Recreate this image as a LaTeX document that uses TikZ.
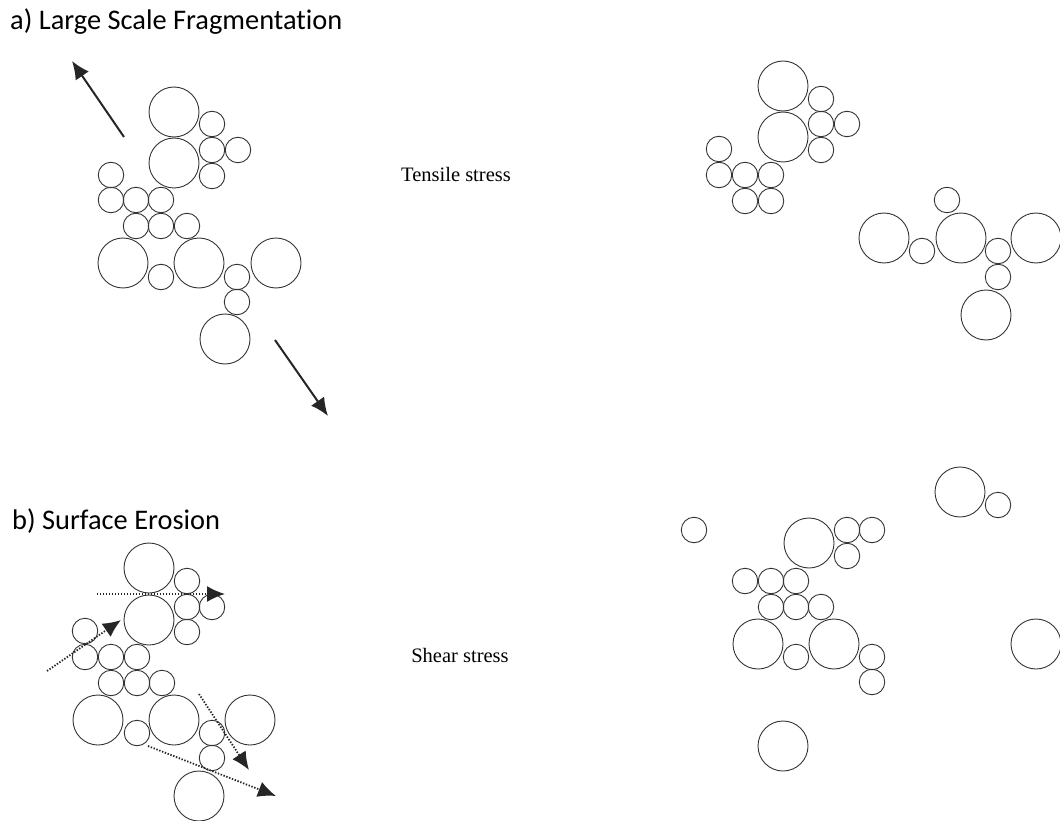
\documentclass[tikz,border=0pt]{standalone}
\usepackage{fontspec}
\newfontfamily\headfont[Ligatures=NoCommon]{Carlito}
\newfontfamily\stressfont{Liberation Serif}
\usetikzlibrary{arrows.meta}
\tikzset{
  grain/.style={circle,draw=black!80,line width=0.9pt,inner sep=0pt},
  bigg/.style={grain,minimum size=50pt},
  smallg/.style={grain,minimum size=25.5pt},
  pull/.style={line width=2pt,draw=black!85,-{Latex[length=18pt,width=16pt]}},
  flow/.style={line width=1.8pt,draw=black!85,dash pattern=on 1.4pt off 1.6pt,-{Latex[length=18pt,width=16pt]}},
  heading/.style={anchor=base west,inner sep=0pt,font=\headfont\fontsize{28.4}{32}\selectfont},
  stresslabel/.style={inner sep=0pt,font=\stressfont\fontsize{20.5}{24}\selectfont}
}
\begin{document}
\begin{tikzpicture}[x=1pt,y=-1pt]
\useasboundingbox (0,0) rectangle (1060,821);

% headings and stress labels
\node[heading] (ta) at (10,30) {a) Large Scale Fragmentation};
\node[heading] (tb) at (12,529) {b) Surface Erosion};
\node[stresslabel] (ts) at (456,174) {Tensile stress};
\node[stresslabel] (tsh) at (460,655) {Shear stress};

% ---- a) aggregate before tensile loading
\foreach \n/\x/\y in {aB1/174/112, aB2/174/163, aB3/123/263, aB4/199/263, aB5/276/263, aB6/225/339}
  \node[bigg] (\n) at (\x,\y) {};
\foreach \n/\x/\y in {aS1/212/124, aS2/212/150, aS3/238/150, aS4/212/176,
    aS5/111/175, aS6/111/200, aS7/136/200, aS8/161/200,
    aS9/136/226, aS10/161/226, aS11/187/226,
    aS12/161/277, aS13/237/277, aS14/237/302}
  \node[smallg] (\n) at (\x,\y) {};

\coordinate (pu0) at (124,137); \coordinate (pu1) at (72,61);
\coordinate (pd0) at (275,340); \coordinate (pd1) at (328,416);
\draw[pull] (pu0) -- (pu1);
\draw[pull] (pd0) -- (pd1);

% ---- a) fragments after tensile loading
\foreach \n/\x/\y in {fB1/783/86, fB2/783/137, fB3/884/238, fB4/961/238, fB5/1036/238, fB6/986/315}
  \node[bigg] (\n) at (\x,\y) {};
\foreach \n/\x/\y in {fS1/821/99, fS2/821/124, fS3/847/124, fS4/821/150,
    fS5/719/149, fS6/719/175, fS7/745/175, fS8/771/175,
    fS9/745/201, fS10/771/201,
    fS11/947/200, fS12/922/251, fS13/998/251, fS14/998/277}
  \node[smallg] (\n) at (\x,\y) {};

% ---- b) aggregate before shear loading
\foreach \n/\x/\y in {bB1/149/568, bB2/149/620, bB3/98/720, bB4/174/720, bB5/250/720, bB6/199/796}
  \node[bigg] (\n) at (\x,\y) {};
\foreach \n/\x/\y in {bS1/187/581, bS2/187/607, bS3/212/607, bS4/187/632,
    bS5/85/631, bS6/85/657, bS7/111/657, bS8/137/657,
    bS9/111/683, bS10/137/683, bS11/162/683,
    bS12/137/733, bS13/212/733, bS14/212/758}
  \node[smallg] (\n) at (\x,\y) {};

\coordinate (s1a) at (97,594);  \coordinate (s1b) at (225,594);
\coordinate (s2a) at (47,671);  \coordinate (s2b) at (121,620);
\coordinate (s3a) at (199,694); \coordinate (s3b) at (249,770);
\coordinate (s4a) at (148,746); \coordinate (s4b) at (276,796);
\draw[flow] (s1a) -- (s1b);
\draw[flow] (s2a) -- (s2b);
\draw[flow] (s3a) -- (s3b);
\draw[flow] (s4a) -- (s4b);

% ---- b) eroded aggregate and detached particles
\foreach \n/\x/\y in {eB1/960/492, eB2/809/543, eB3/758/644, eB4/834/644, eB5/1036/644, eB6/783/746}
  \node[bigg] (\n) at (\x,\y) {};
\foreach \n/\x/\y in {eS1/694/530, eS2/998/505, eS3/847/530, eS4/872/530, eS5/847/556,
    eS6/745/581, eS7/771/581, eS8/796/581,
    eS9/771/607, eS10/796/607, eS11/821/607,
    eS12/796/657, eS13/872/657, eS14/872/682}
  \node[smallg] (\n) at (\x,\y) {};
\end{tikzpicture}
\end{document}
